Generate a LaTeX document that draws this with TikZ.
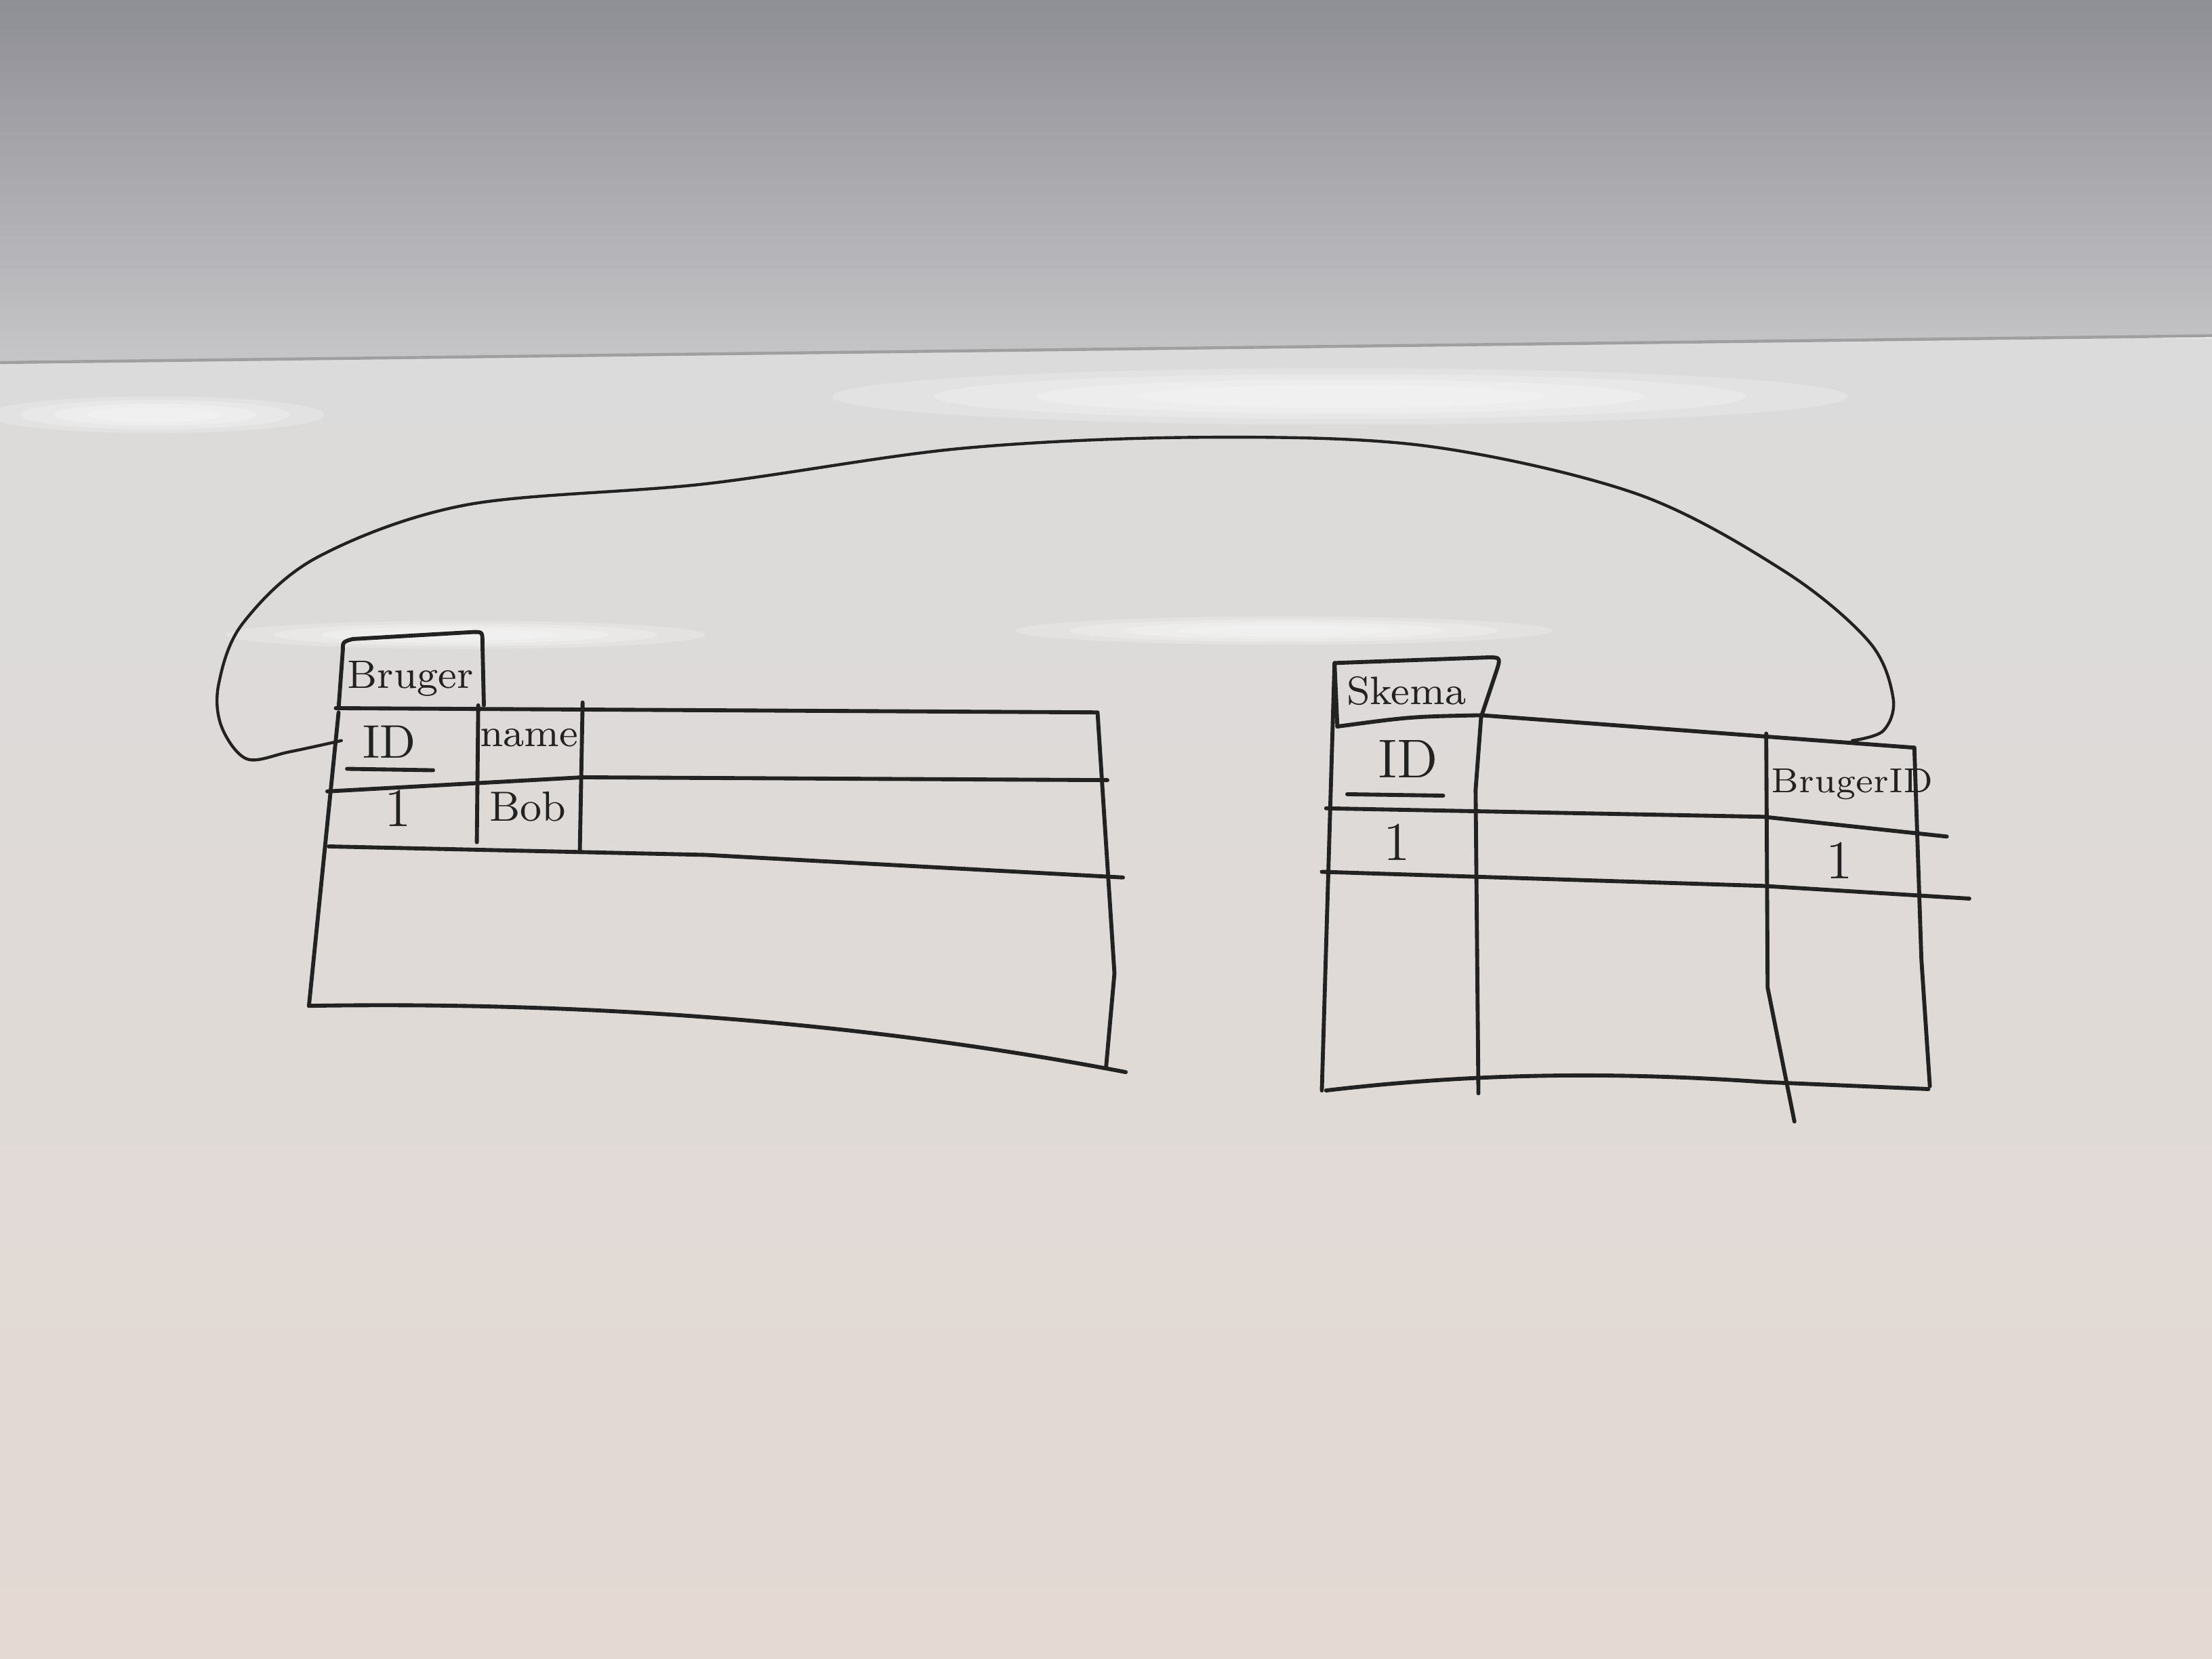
\documentclass[tikz,border=0pt]{standalone}
\usetikzlibrary{calc}
\definecolor{ink}{HTML}{222222}
\definecolor{wallTop}{HTML}{8E8E95}
\definecolor{wallBot}{HTML}{C6C6C8}
\definecolor{boardTop}{HTML}{DBDBDB}
\definecolor{boardMid}{HTML}{E1DFDE}
\definecolor{boardBot}{HTML}{E4D9D3}
\tikzset{
  pen/.style={draw=ink, line width=0.8pt, line cap=round, line join=round},
  lbl/.style={text=ink, inner sep=0pt, font=\fontsize{8pt}{9pt}\selectfont},
  glare/.style={fill=white, opacity=0.22},
}
\begin{document}
\begin{tikzpicture}[x=0.01cm,y=-0.01cm]
\useasboundingbox (0,0) rectangle (1568,1176);
% background: wall and whiteboard
\shade[top color=boardTop, middle color=boardMid, bottom color=boardBot] (0,240) rectangle (1568,1176);
\shade[top color=wallTop, bottom color=wallBot] (0,0) -- (1568,0) -- (1568,238) -- (0,257) -- cycle;
\draw[gray!75, line width=0.6pt] (0,257) -- (1568,238);
% glare reflections
\foreach \s in {1.0,0.8,0.6,0.4}{
  \fill[glare] (110,294) ellipse ({120*\s} and {13*\s});
  \fill[glare] (950,281) ellipse ({360*\s} and {20*\s});
  \fill[glare] (330,450) ellipse ({170*\s} and {10*\s});
  \fill[glare] (910,447) ellipse ({190*\s} and {10*\s});
}
% ---------- Bruger table ----------
\draw[pen] (240,502) -- (243,461) .. controls (243,455) .. (250,453) -- (336,448) .. controls (342,448) .. (342,456) -- (343,500);
\draw[pen] (238,502) -- (778,505) -- (790,690) -- (784,757);
\draw[pen] (240,505) -- (219,713);
\draw[pen] (219,713) .. controls (400,710) and (600,722) .. (798,760);
\draw[pen] (232,561) -- (413,551) -- (785,553);
\draw[pen] (233,600) -- (500,606) -- (796,622);
\draw[pen] (339,500) -- (338,597);
\draw[pen] (413,498) -- (411,604);
\node[lbl, font=\fontsize{8pt}{9pt}\selectfont] (bruger) at (291,481) {Bruger};
\node[lbl, font=\fontsize{9.5pt}{10pt}\selectfont] (bid) at (276,526) {ID};
\draw[pen] (246,545) -- (307,546);
\node[lbl, font=\fontsize{8pt}{9pt}\selectfont] (bname) at (375,523) {name};
\node[lbl, font=\fontsize{11pt}{10pt}\selectfont] (bone) at (282,573) {1};
\node[lbl, font=\fontsize{8.5pt}{9pt}\selectfont] (bbob) at (374,572) {Bob};
% ---------- Skema table ----------
\draw[pen] (948,515) -- (946,470) -- (1055,466) .. controls (1064,466) .. (1060,478) -- (1050,508);
\draw[pen] (948,515) .. controls (1000,508) .. (1050,507) -- (1357,530);
\draw[pen] (946,470) -- (937,773);
\draw[pen] (940,573) -- (1250,579) -- (1380,593);
\draw[pen] (937,618) -- (1250,628) -- (1396,637);
\draw[pen] (940,773) .. controls (1050,760) and (1150,760) .. (1250,767) -- (1367,772);
\draw[pen] (1357,530) -- (1362,680) -- (1368,770);
\draw[pen] (1050,507) -- (1046,560) -- (1048,775);
\draw[pen] (1252,520) -- (1253,700) -- (1272,795);
\node[lbl, font=\fontsize{8pt}{9pt}\selectfont] (skema) at (997,490) {Skema};
\node[lbl, font=\fontsize{11pt}{10pt}\selectfont] (sid) at (998,538) {ID};
\draw[pen] (955,563) -- (1023,564);
\node[lbl, font=\fontsize{11pt}{10pt}\selectfont] (sone) at (990,597) {1};
\node[lbl, font=\fontsize{7pt}{8pt}\selectfont] (sbid) at (1313,556) {BrugerID};
\node[lbl, font=\fontsize{11pt}{10pt}\selectfont] (stwo) at (1304,610) {1};
% ---------- link from Bruger.ID to Skema.BrugerID ----------
\coordinate (linkA) at (242,525);
\coordinate (linkB) at (1313,525);
\draw[pen, line width=0.6pt] plot[smooth, tension=0.55] coordinates {(linkA) (205,533) (175,538) (157,515) (155,485) (172,442) (225,395) (330,358) (500,343) (680,318) (850,310) (1010,316) (1160,350) (1265,405) (1325,455) (1342,495) (1335,518) (linkB)};
\end{tikzpicture}
\end{document}
